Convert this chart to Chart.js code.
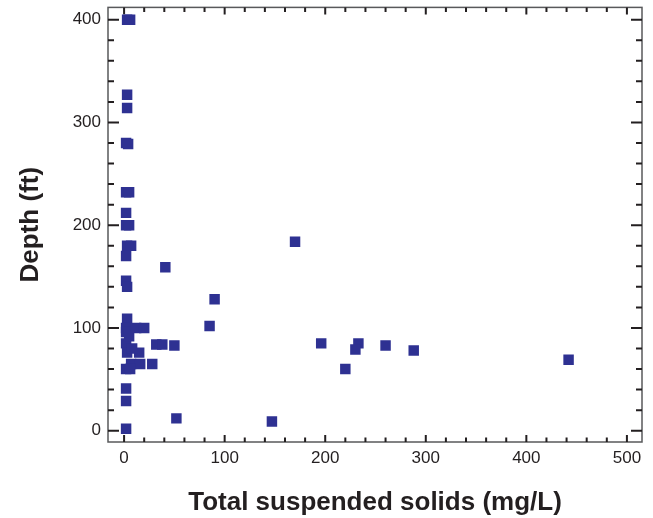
<!DOCTYPE html>
<html>
<head>
<meta charset="utf-8">
<title>Total suspended solids vs depth</title>
<script src="https://cdn.jsdelivr.net/npm/chart.js@4/dist/chart.umd.min.js"></script>
<style>
    body { margin: 0; background: #fff; }
    canvas { display: block; }
</style>
</head>
<body>
<canvas id="tssChart" width="653" height="518"></canvas>
<script>
// Values: total suspended solids (mg/L) and sample depth (ft)
const tssMgL = [3, 6, 3, 3, 2, 4, 2, 5, 2, 2, 5, 3, 7, 2, 41, 2, 3, 170, 90, 3,
    2, 2, 12, 20, 85, 2, 3, 15, 32, 38, 50, 7, 16, 28, 2, 6, 2, 2, 52, 2,
    147, 196, 233, 230, 260, 288, 442, 220, 5, 8];
const depthFt = [400, 400, 327, 314, 280, 279, 232, 232, 212, 200, 200, 180, 180, 170, 159, 146, 140, 184, 128, 109,
    100, 96, 100, 100, 102, 85, 76, 76, 84, 84, 83, 65, 65, 65, 60, 60, 41, 29, 12, 2,
    9, 85, 85, 79, 83, 78, 69, 60, 92, 80];
const xTickValues = [0, 100, 200, 300, 400, 500];
const yTickValues = [0, 100, 200, 300, 400];

const xLabel = 'Total suspended solids (mg/L)';
const yLabel = 'Depth (ft)';

document.addEventListener("DOMContentLoaded", function () {
    const ctx = document.getElementById('tssChart').getContext('2d');
    const fontFamily = '"Liberation Sans", Arial, Helvetica, sans-serif';

    const points = tssMgL.map((v, i) => ({ x: v, y: depthFt[i] }));

    // frame on all four sides plus inward major/minor ticks
    const frameTicks = {
        id: 'frameTicks',
        beforeDatasetsDraw(chart) {
            const c = chart.ctx;
            const area = chart.chartArea;
            const xs = chart.scales.x;
            const ys = chart.scales.y;

            c.save();
            c.strokeStyle = '#58595b';
            c.lineWidth = 1.5;
            c.strokeRect(area.left, area.top, area.right - area.left, area.bottom - area.top);

            c.strokeStyle = '#231f20';
            c.lineWidth = 2;
            c.beginPath();
            for (let v = 0; v <= xs.max; v += 20) {
                const px = xs.getPixelForValue(v);
                const len = xTickValues.includes(v) ? 7 : 4.5;
                c.moveTo(px, area.bottom);
                c.lineTo(px, area.bottom - len);
                c.moveTo(px, area.top);
                c.lineTo(px, area.top + len);
            }
            for (let v = 0; v <= ys.max; v += 20) {
                const py = ys.getPixelForValue(v);
                const len = yTickValues.includes(v) ? 11 : 6;
                c.moveTo(area.left, py);
                c.lineTo(area.left + len, py);
                c.moveTo(area.right, py);
                c.lineTo(area.right - len, py);
            }
            c.stroke();
            c.restore();
        }
    };

    // fixed axis boxes so the plot area sits where it does in the original
    function fixBox(size) {
        return scale => {
            if (scale.isHorizontal()) {
                scale.height = size;
            } else {
                scale.width = size;
            }
            scale.paddingTop = 0;
            scale.paddingBottom = 0;
            scale.paddingLeft = 0;
            scale.paddingRight = 0;
        };
    }

    new Chart(ctx, {
        type: 'scatter',
        data: {
            datasets: [{
                data: points,
                pointStyle: 'rect',
                pointRadius: 7.4,
                pointHoverRadius: 7.4,
                backgroundColor: '#2e3192',
                borderColor: '#2e3192',
                borderWidth: 0
            }]
        },
        options: {
            responsive: false,
            animation: false,
            layout: {
                padding: { top: 7, right: 11, left: 0, bottom: 0 }
            },
            plugins: {
                legend: { display: false },
                tooltip: { enabled: false }
            },
            scales: {
                x: {
                    type: 'linear',
                    min: -16,
                    max: 515,
                    afterFit: fixBox(76),
                    afterBuildTicks: scale => { scale.ticks = xTickValues.map(v => ({ value: v })); },
                    grid: { display: false, drawTicks: false },
                    border: { display: false },
                    ticks: {
                        padding: 6,
                        color: '#231f20',
                        font: { family: fontFamily, size: 17 }
                    },
                    title: {
                        display: true,
                        text: xLabel,
                        color: '#231f20',
                        padding: { top: 0, bottom: 0 },
                        font: { family: fontFamily, size: 26, weight: 'bold' }
                    }
                },
                y: {
                    type: 'linear',
                    min: -11,
                    max: 412,
                    afterFit: fixBox(108),
                    afterBuildTicks: scale => { scale.ticks = yTickValues.map(v => ({ value: v })); },
                    grid: { display: false, drawTicks: false },
                    border: { display: false },
                    ticks: {
                        padding: 7,
                        color: '#231f20',
                        font: { family: fontFamily, size: 17 }
                    },
                    title: {
                        display: true,
                        text: yLabel,
                        color: '#231f20',
                        padding: { top: 15, bottom: 0 },
                        font: { family: fontFamily, size: 26, weight: 'bold' }
                    }
                }
            }
        },
        plugins: [frameTicks]
    });
});
</script>
</body>
</html>
